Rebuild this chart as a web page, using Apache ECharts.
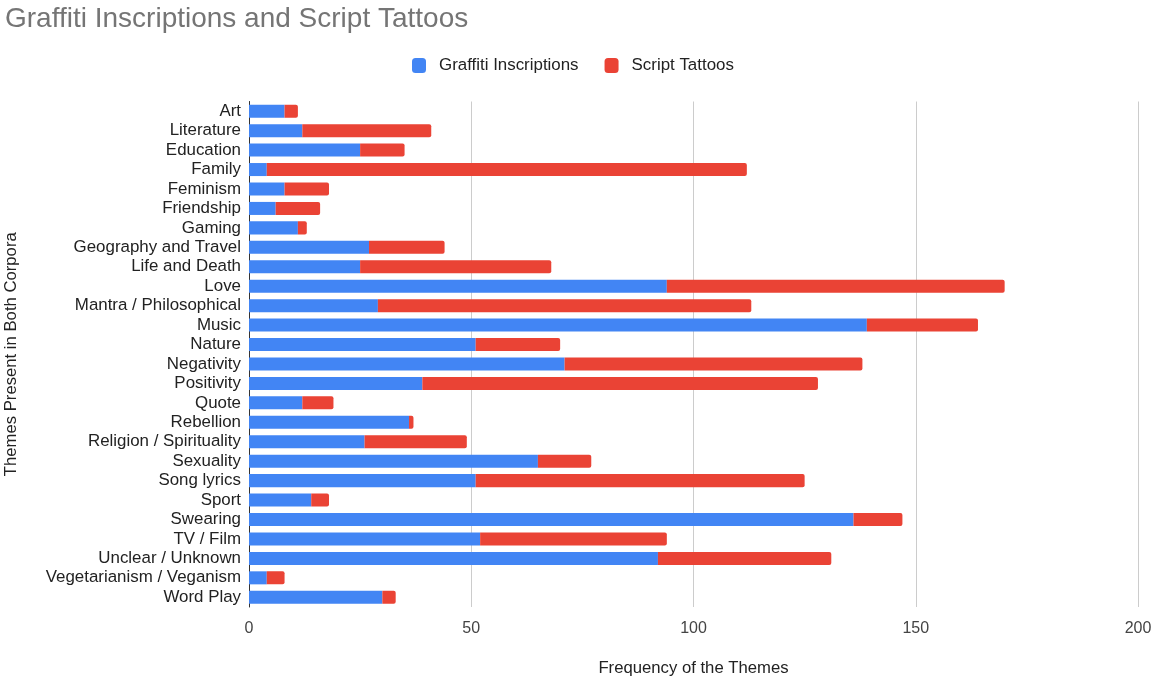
<!DOCTYPE html>
<html><head><meta charset="utf-8">
<script src="https://cdn.jsdelivr.net/npm/echarts@6/dist/echarts.min.js"></script>
<style>html,body{margin:0;padding:0;background:#fff}#c{width:1153px;height:679px}</style>
</head><body><div id="c"></div>
<script>
const categories = ["Art","Literature","Education","Family","Feminism","Friendship","Gaming","Geography and Travel","Life and Death","Love","Mantra / Philosophical","Music","Nature","Negativity","Positivity","Quote","Rebellion","Religion / Spirituality","Sexuality","Song lyrics","Sport","Swearing","TV / Film","Unclear / Unknown","Vegetarianism / Veganism","Word Play"];
const graffiti = [8,12,25,4,8,6,11,27,25,94,29,139,51,71,39,12,36,26,65,51,14,136,52,92,4,30];
const tattoos = [3,29,10,108,10,10,2,17,43,76,84,25,19,67,89,7,1,23,12,74,4,11,42,39,4,3];
const xTicks = [0,50,100,150,200];

const chart = echarts.init(document.getElementById('c'));
const font = '"Liberation Sans", Arial, sans-serif';
chart.setOption({
  animation: false,
  title: {text: 'Graffiti Inscriptions and Script Tattoos', left: 0, top: 0,
    textStyle: {fontFamily: font, fontSize: 28, fontWeight: 'normal', color: '#757575'}},
  legend: {top: 52, left: 407, itemWidth: 14, itemHeight: 15, itemGap: 26,
    icon: 'roundRect',
    textStyle: {fontFamily: font, fontSize: 16.9, color: '#222', padding: [0,0,0,8]}},
  grid: {left: 249, right: 15, top: 101.5, bottom: 72, containLabel: false, outerBoundsMode: 'none'},
  xAxis: {type: 'value', min: xTicks[0], max: xTicks[xTicks.length-1], interval: 50,
    name: 'Frequency of the Themes', nameLocation: 'middle', nameGap: 53,
    nameTextStyle: {fontFamily: font, fontSize: 16.7, color: '#222'},
    axisLabel: {fontFamily: font, fontSize: 16, color: '#444', margin: 14},
    axisLine: {show: false}, axisTick: {show: false},
    splitLine: {lineStyle: {color: '#cccccc', width: 1}}},
  yAxis: {type: 'category', data: categories, inverse: true,
    name: 'Themes Present in Both Corpora', nameLocation: 'middle', nameGap: 229,
    nameTextStyle: {fontFamily: font, fontSize: 16.7, color: '#222'},
    axisLabel: {fontFamily: font, fontSize: 16.9, color: '#222', margin: 8, interval: 0},
    axisTick: {show: false},
    axisLine: {show: true, lineStyle: {color: '#333', width: 1}}},
  series: [
    {name: 'Graffiti Inscriptions', type: 'bar', stack: 'a', data: graffiti,
      barCategoryGap: '33%', itemStyle: {color: '#4285f4'}},
    {name: 'Script Tattoos', type: 'bar', stack: 'a', data: tattoos,
      barCategoryGap: '33%', itemStyle: {color: '#ea4335', borderRadius: [0,2,2,0]}}
  ]
});
</script></body></html>
